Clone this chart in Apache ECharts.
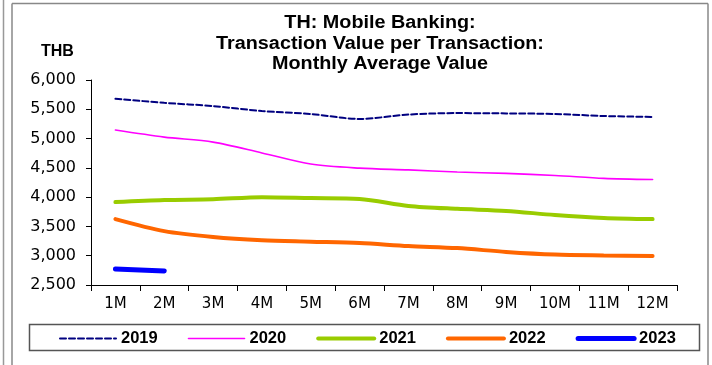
<!DOCTYPE html>
<html>
<head>
<meta charset="utf-8">
<script src="https://cdn.jsdelivr.net/npm/echarts@6/dist/echarts.min.js"></script>
<style>
  html, body { margin: 0; padding: 0; background: #fff; }
  #chart { width: 712px; height: 365px; }
</style>
</head>
<body>
<div id="chart"></div>
<script>
// Month labels along the x axis
var months = ['1M', '2M', '3M', '4M', '5M', '6M', '7M', '8M', '9M', '10M', '11M', '12M'];

// Average value per mobile banking transaction (THB)
var y2019 = [5680, 5610, 5555, 5470, 5420, 5335, 5410, 5435, 5430, 5420, 5385, 5370];
var y2020 = [5145, 5025, 4940, 4755, 4565, 4495, 4465, 4430, 4405, 4370, 4320, 4300];
var y2021 = [3915, 3950, 3965, 4000, 3985, 3970, 3850, 3800, 3765, 3695, 3645, 3625];
var y2022 = [3625, 3420, 3320, 3265, 3240, 3215, 3165, 3130, 3065, 3020, 3005, 2995];
var y2023 = [2775, 2740];

var yTicks = { min: 2500, max: 6000, step: 500 };

var SANS = 'Liberation Sans, Arial, sans-serif';
var WIDE = 'DejaVu Sans, Verdana, sans-serif';

var styles = {
  '2019': { color: '#000080', width: 2, type: [6, 3] },
  '2020': { color: '#FF00FF', width: 1.6, type: 'solid' },
  '2021': { color: '#99CC00', width: 4, type: 'solid' },
  '2022': { color: '#FF6600', width: 4, type: 'solid' },
  '2023': { color: '#0000FF', width: 5, type: 'solid' }
};

var chart = echarts.init(document.getElementById('chart'), null, { renderer: 'canvas' });

function lineSeries(name, data) {
  var s = styles[name];
  return {
    name: name,
    type: 'line',
    data: data,
    smooth: 0.3,
    symbol: 'none',
    lineStyle: { color: s.color, width: s.width, type: s.type, cap: 'round' },
    itemStyle: { color: s.color },
    emphasis: { disabled: true }
  };
}

function legendItem(name) {
  var s = styles[name];
  return {
    name: name,
    itemStyle: { opacity: 0 },
    lineStyle: { color: s.color, width: s.width, type: s.type, cap: 'round' }
  };
}

chart.setOption({
  animation: false,
  backgroundColor: '#fff',
  grid: { left: 91, right: 35, top: 80, bottom: 80 },
  xAxis: {
    type: 'category',
    data: months,
    boundaryGap: true,
    axisLine: { lineStyle: { color: '#000', width: 1 } },
    axisTick: { show: true, length: 6, lineStyle: { color: '#000' } },
    axisLabel: { color: '#000', fontSize: 15, fontFamily: WIDE, margin: 12 },
    splitLine: { show: false }
  },
  yAxis: {
    type: 'value',
    min: yTicks.min,
    max: yTicks.max,
    interval: yTicks.step,
    axisLine: { show: true, lineStyle: { color: '#000', width: 1 } },
    axisTick: { show: true, length: 5, lineStyle: { color: '#000' } },
    axisLabel: {
      color: '#000', fontSize: 16, fontFamily: WIDE, margin: 15,
      formatter: function (v) { return v.toLocaleString('en-US'); }
    },
    splitLine: { show: false }
  },
  legend: {
    left: 59,
    top: 330,
    padding: 0,
    itemWidth: 56,
    itemHeight: 14,
    itemGap: 30,
    itemTextGap: 6,
    textStyle: { color: '#000', fontSize: 16.5, fontWeight: 'bold', fontFamily: SANS },
    selectedMode: false,
    data: ['2019', '2020', '2021', '2022', '2023'].map(legendItem)
  },
  graphic: [
    { type: 'line', shape: { x1: 3.5, y1: 0, x2: 3.5, y2: 365 }, style: { stroke: '#999', lineWidth: 1.5 } },
    { type: 'line', shape: { x1: 12, y1: 3.5, x2: 12, y2: 365 }, style: { stroke: '#888', lineWidth: 1.5 } },
    { type: 'line', shape: { x1: 12, y1: 3.5, x2: 708, y2: 3.5 }, style: { stroke: '#888', lineWidth: 1.5 } },
    { type: 'line', shape: { x1: 708, y1: 3.5, x2: 708, y2: 365 }, style: { stroke: '#888', lineWidth: 1.5 } },
    { type: 'rect', shape: { x: 29.5, y: 324.5, width: 670, height: 26 }, style: { fill: 'none', stroke: '#555', lineWidth: 1.5 }, z: -1 },
    {
      type: 'text', x: 380, y: 13, scaleX: 1.1,
      style: {
        text: 'TH: Mobile Banking:\nTransaction Value per Transaction:\nMonthly Average Value',
        font: 'bold 18px ' + SANS, fill: '#000', align: 'center', lineHeight: 20.5
      }
    },
    {
      type: 'text', x: 41, y: 44,
      style: { text: 'THB', font: 'bold 16px ' + SANS, fill: '#000' }
    }
  ],
  series: [
    lineSeries('2019', y2019),
    lineSeries('2020', y2020),
    lineSeries('2021', y2021),
    lineSeries('2022', y2022),
    lineSeries('2023', y2023)
  ]
});
</script>
</body>
</html>
